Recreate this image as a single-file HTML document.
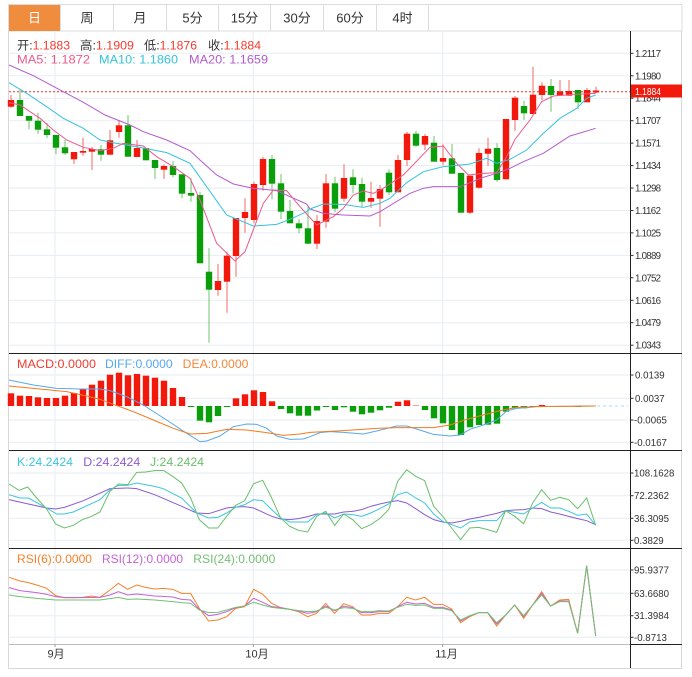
<!DOCTYPE html>
<html><head><meta charset="utf-8"><style>
html,body{margin:0;padding:0;background:#fff;}
svg{display:block;}
text{font-family:"Liberation Sans","Noto Sans CJK SC",sans-serif;}
</style></head><body>
<svg width="692" height="677" viewBox="0 0 692 677" xmlns="http://www.w3.org/2000/svg">
<rect x="0" y="0" width="692" height="677" fill="#fff"/>
<!-- tab bar -->
<rect x="8.5" y="4.5" width="673.5" height="26.5" fill="#fff" stroke="#dcdcdc"/>
<rect x="9" y="5" width="51" height="26" fill="#f08c3e"/>
<g stroke="#dcdcdc">
<line x1="60.5" y1="5" x2="60.5" y2="31"/><line x1="113.5" y1="5" x2="113.5" y2="31"/><line x1="166.5" y1="5" x2="166.5" y2="31"/><line x1="218.5" y1="5" x2="218.5" y2="31"/><line x1="270.5" y1="5" x2="270.5" y2="31"/><line x1="323.5" y1="5" x2="323.5" y2="31"/><line x1="376.5" y1="5" x2="376.5" y2="31"/><line x1="428.5" y1="5" x2="428.5" y2="31"/>
</g>
<g font-size="13" text-anchor="middle" fill="#333">
<text x="34.5" y="22.5" fill="#fff">日</text><text x="87" y="22.5">周</text><text x="140" y="22.5">月</text><text x="192.5" y="22.5">5分</text><text x="244.5" y="22.5">15分</text><text x="297" y="22.5">30分</text><text x="350" y="22.5">60分</text><text x="402.5" y="22.5">4时</text>
</g>
<!-- frame -->
<line x1="8.5" y1="31" x2="8.5" y2="668.5" stroke="#d8d8d8"/>
<line x1="681.5" y1="31" x2="681.5" y2="668.5" stroke="#d8d8d8"/>
<line x1="8.5" y1="668.5" x2="682" y2="668.5" stroke="#d8d8d8"/>
<!-- grid -->
<g stroke="#e6edf2" stroke-width="1">
<line x1="9" y1="53.3" x2="630" y2="53.3"/><line x1="9" y1="75.8" x2="630" y2="75.8"/><line x1="9" y1="98.2" x2="630" y2="98.2"/><line x1="9" y1="120.7" x2="630" y2="120.7"/><line x1="9" y1="143.1" x2="630" y2="143.1"/><line x1="9" y1="165.6" x2="630" y2="165.6"/><line x1="9" y1="188" x2="630" y2="188"/><line x1="9" y1="210.5" x2="630" y2="210.5"/><line x1="9" y1="232.9" x2="630" y2="232.9"/><line x1="9" y1="255.4" x2="630" y2="255.4"/><line x1="9" y1="277.8" x2="630" y2="277.8"/><line x1="9" y1="300.3" x2="630" y2="300.3"/><line x1="9" y1="322.7" x2="630" y2="322.7"/><line x1="9" y1="345.2" x2="630" y2="345.2"/>
<line x1="9" y1="375" x2="630" y2="375"/><line x1="9" y1="398.3" x2="630" y2="398.3"/><line x1="9" y1="420" x2="630" y2="420"/><line x1="9" y1="442.3" x2="630" y2="442.3"/>
<line x1="9" y1="473" x2="630" y2="473"/><line x1="9" y1="495.7" x2="630" y2="495.7"/><line x1="9" y1="518.3" x2="630" y2="518.3"/><line x1="9" y1="540.3" x2="630" y2="540.3"/>
<line x1="9" y1="570" x2="630" y2="570"/><line x1="9" y1="593.3" x2="630" y2="593.3"/><line x1="9" y1="615.7" x2="630" y2="615.7"/><line x1="9" y1="637.3" x2="630" y2="637.3"/>
<line x1="55" y1="31" x2="55" y2="644"/><line x1="253.3" y1="31" x2="253.3" y2="644"/><line x1="442.7" y1="31" x2="442.7" y2="644"/>
</g>
<!-- panel separators / axes -->
<g stroke="#222">
<line x1="9" y1="353.5" x2="682" y2="353.5"/><line x1="9" y1="450.5" x2="682" y2="450.5"/><line x1="9" y1="548.5" x2="682" y2="548.5"/>
<line x1="630.5" y1="31" x2="630.5" y2="668"/>
<line x1="630" y1="644.5" x2="682" y2="644.5"/>
</g>
<line x1="9" y1="644.5" x2="630" y2="644.5" stroke="#bdbdbd"/>
<g stroke="#999"><line x1="55" y1="644" x2="55" y2="647"/><line x1="253.3" y1="644" x2="253.3" y2="647"/><line x1="442.7" y1="644" x2="442.7" y2="647"/></g>
<!-- axis ticks -->
<g stroke="#333">
<line x1="630" y1="53.3" x2="633.5" y2="53.3"/><line x1="630" y1="75.8" x2="633.5" y2="75.8"/><line x1="630" y1="98.2" x2="633.5" y2="98.2"/><line x1="630" y1="120.7" x2="633.5" y2="120.7"/><line x1="630" y1="143.1" x2="633.5" y2="143.1"/><line x1="630" y1="165.6" x2="633.5" y2="165.6"/><line x1="630" y1="188" x2="633.5" y2="188"/><line x1="630" y1="210.5" x2="633.5" y2="210.5"/><line x1="630" y1="232.9" x2="633.5" y2="232.9"/><line x1="630" y1="255.4" x2="633.5" y2="255.4"/><line x1="630" y1="277.8" x2="633.5" y2="277.8"/><line x1="630" y1="300.3" x2="633.5" y2="300.3"/><line x1="630" y1="322.7" x2="633.5" y2="322.7"/><line x1="630" y1="345.2" x2="633.5" y2="345.2"/>
<line x1="630" y1="375" x2="633.5" y2="375"/><line x1="630" y1="398.3" x2="633.5" y2="398.3"/><line x1="630" y1="420" x2="633.5" y2="420"/><line x1="630" y1="442.3" x2="633.5" y2="442.3"/>
<line x1="630" y1="473" x2="633.5" y2="473"/><line x1="630" y1="495.7" x2="633.5" y2="495.7"/><line x1="630" y1="518.3" x2="633.5" y2="518.3"/><line x1="630" y1="540.3" x2="633.5" y2="540.3"/>
<line x1="630" y1="570" x2="633.5" y2="570"/><line x1="630" y1="593.3" x2="633.5" y2="593.3"/><line x1="630" y1="615.7" x2="633.5" y2="615.7"/><line x1="630" y1="637.3" x2="633.5" y2="637.3"/>
</g>
<g font-size="9.7" fill="#333" lengthAdjust="spacingAndGlyphs">
<text x="635" y="56.8" textLength="26">1.2117</text><text x="635" y="79.3" textLength="26">1.1980</text><text x="635" y="101.7" textLength="26">1.1844</text><text x="635" y="124.2" textLength="26">1.1707</text><text x="635" y="146.6" textLength="26">1.1571</text><text x="635" y="169.1" textLength="26">1.1434</text><text x="635" y="191.5" textLength="26">1.1298</text><text x="635" y="214" textLength="26">1.1162</text><text x="635" y="236.4" textLength="26">1.1025</text><text x="635" y="258.9" textLength="26">1.0889</text><text x="635" y="281.3" textLength="26">1.0752</text><text x="635" y="303.8" textLength="26">1.0616</text><text x="635" y="326.2" textLength="26">1.0479</text><text x="635" y="348.7" textLength="26">1.0343</text>
<text x="635" y="378.5">0.0139</text><text x="635" y="401.8">0.0037</text><text x="634" y="423.5">-0.0065</text><text x="634" y="445.8">-0.0167</text>
<text x="634" y="476.5">108.1628</text><text x="634" y="499.2">72.2362</text><text x="634" y="521.8">36.3095</text><text x="634" y="543.8">0.3829</text>
<text x="634" y="573.5">95.9377</text><text x="634" y="596.8">63.6680</text><text x="634" y="619.2">31.3984</text><text x="634" y="640.8">-0.8713</text>
</g>
<!-- price line and box -->
<line x1="9" y1="91.7" x2="630" y2="91.7" stroke="#e8322a" stroke-dasharray="2,2"/>
<rect x="631" y="84.5" width="51" height="13" fill="#f21a0c"/>
<text x="635" y="94.8" font-size="9.7" fill="#fff" textLength="26" lengthAdjust="spacingAndGlyphs">1.1884</text>
<!-- header texts -->
<g font-size="12">
<text x="17" y="49.5" textLength="53" lengthAdjust="spacingAndGlyphs"><tspan fill="#333">开:</tspan><tspan fill="#f23c2e">1.1883</tspan></text>
<text x="80" y="49.5" textLength="54" lengthAdjust="spacingAndGlyphs"><tspan fill="#333">高:</tspan><tspan fill="#f23c2e">1.1909</tspan></text>
<text x="144" y="49.5" textLength="53" lengthAdjust="spacingAndGlyphs"><tspan fill="#333">低:</tspan><tspan fill="#f23c2e">1.1876</tspan></text>
<text x="208" y="49.5" textLength="53" lengthAdjust="spacingAndGlyphs"><tspan fill="#333">收:</tspan><tspan fill="#f23c2e">1.1884</tspan></text>
<text x="17" y="63.5" fill="#ec5a8c" textLength="73" lengthAdjust="spacingAndGlyphs">MA5: 1.1872</text>
<text x="99" y="63.5" fill="#35c3dc" textLength="79" lengthAdjust="spacingAndGlyphs">MA10: 1.1860</text>
<text x="189" y="63.5" fill="#b45bcf" textLength="79" lengthAdjust="spacingAndGlyphs">MA20: 1.1659</text>
<text x="17" y="368" fill="#f03c2e" textLength="79" lengthAdjust="spacingAndGlyphs">MACD:0.0000</text>
<text x="105" y="368" fill="#58a8ec" textLength="67.7" lengthAdjust="spacingAndGlyphs">DIFF:0.0000</text>
<text x="182.7" y="368" fill="#f5873a" textLength="65.7" lengthAdjust="spacingAndGlyphs">DEA:0.0000</text>
<text x="17" y="466" fill="#3cc6dc" textLength="56" lengthAdjust="spacingAndGlyphs">K:24.2424</text>
<text x="83.3" y="466" fill="#8a5bd0" textLength="57" lengthAdjust="spacingAndGlyphs">D:24.2424</text>
<text x="150" y="466" fill="#6bbf6b" textLength="54" lengthAdjust="spacingAndGlyphs">J:24.2424</text>
<text x="17" y="563" fill="#f7812a" textLength="75" lengthAdjust="spacingAndGlyphs">RSI(6):0.0000</text>
<text x="102" y="563" fill="#c463d2" textLength="81" lengthAdjust="spacingAndGlyphs">RSI(12):0.0000</text>
<text x="193.3" y="563" fill="#73c073" textLength="82" lengthAdjust="spacingAndGlyphs">RSI(24):0.0000</text>
</g>
<g font-size="11" fill="#333" text-anchor="middle">
<text x="56" y="657.5">9月</text><text x="257" y="657.5">10月</text><text x="446.5" y="657.5">11月</text>
</g>
<!-- candle wicks -->
<path fill="none" stroke="#f26a62" stroke-width="1" d="M11 95V107.7M74 152V164M83 137.7V155.7M92 147V170M110 130V154.7M119 120V137.7M137 140V157M164 164.3V179M218 264V295.7M227 251.7V312.7M236 218V276.7M245 198.3V232.7M254 181.7V223.3M263 156.7V190.7M317 215V249M326 174V227.7M344 164.3V201.7M371 181.7V207.7M380 185V226.7M398 155V192.3M407 131.7V166M425 134V150M443 144.3V165M470 175.7V214M479 148.3V188.7M488 137.7V166M506 119V179.3M515 96V130.7M533 66.7V114M542 82.3V100M560 80V95.7M569 80V95.7M587 88V102.3M596 86.7V93.3"/>
<path fill="none" stroke="#6cc46c" stroke-width="1" d="M20 89V116M29 116V129.3M38 112.7V134M47 123V138M56 135V154.3M65 140V155M101 145V160.7M128 115V156.7M146 148V160.3M155 160V179M173 161V177.3M182 174.3V198.3M191 178.3V201.7M200 191.7V263.3M209 248.3V342.7M272 155V199.3M281 174V219M290 200V223.3M299 219.3V233.3M308 206.7V243.7M335 176.7V212.3M353 169.3V193.3M362 177.7V206.7M389 169.3V195M416 130.7V146.7M434 136V161.7M452 144V173.7M461 173V212.7M497 143.3V181.7M524 100.7V120M551 79V111.7M578 90V108.7"/>
<!-- red bodies -->
<g fill="#f2190c">
<rect x="7.8" y="100" width="6.4" height="6.7"/><rect x="70.8" y="152" width="6.4" height="7.3"/><rect x="79.8" y="151" width="6.4" height="1.7"/><rect x="88.8" y="149" width="6.4" height="2.7"/><rect x="106.8" y="140.3" width="6.4" height="14.4"/><rect x="115.8" y="125.3" width="6.4" height="6.7"/><rect x="133.8" y="148" width="6.4" height="9"/><rect x="160.8" y="166" width="6.4" height="3.7"/><rect x="214.8" y="281" width="6.4" height="9"/><rect x="223.8" y="255.7" width="6.4" height="26"/><rect x="232.8" y="218" width="6.4" height="38"/><rect x="241.8" y="212" width="6.4" height="6"/><rect x="250.8" y="184" width="6.4" height="36"/><rect x="259.8" y="159" width="6.4" height="26"/><rect x="313.8" y="221" width="6.4" height="22.7"/><rect x="322.8" y="183.3" width="6.4" height="38.4"/><rect x="340.8" y="178" width="6.4" height="20.7"/><rect x="367.8" y="198" width="6.4" height="3.7"/><rect x="376.8" y="189" width="6.4" height="9.7"/><rect x="394.8" y="160" width="6.4" height="32.3"/><rect x="403.8" y="133.7" width="6.4" height="26.3"/><rect x="421.8" y="136" width="6.4" height="8.7"/><rect x="439.8" y="158" width="6.4" height="3.7"/><rect x="466.8" y="175.7" width="6.4" height="37"/><rect x="475.8" y="153" width="6.4" height="34.7"/><rect x="484.8" y="148.7" width="6.4" height="5"/><rect x="502.8" y="119" width="6.4" height="60.3"/><rect x="511.8" y="97.7" width="6.4" height="22.3"/><rect x="529.8" y="94.7" width="6.4" height="19.3"/><rect x="538.8" y="85.7" width="6.4" height="9.3"/><rect x="556.8" y="91.3" width="6.4" height="4.4"/><rect x="565.8" y="91" width="6.4" height="4.7"/><rect x="583.8" y="90" width="6.4" height="12.3"/><rect x="592.8" y="90.5" width="6.4" height="2"/>
</g>
<!-- green bodies -->
<g fill="#0a9f0a">
<rect x="16.8" y="100" width="6.4" height="16"/><rect x="25.8" y="116" width="6.4" height="4.7"/><rect x="34.8" y="120.7" width="6.4" height="9"/><rect x="43.8" y="129.3" width="6.4" height="5.7"/><rect x="52.8" y="135" width="6.4" height="12.7"/><rect x="61.8" y="147.3" width="6.4" height="6"/><rect x="97.8" y="149.3" width="6.4" height="5.4"/><rect x="124.8" y="125.3" width="6.4" height="31.4"/><rect x="142.8" y="148" width="6.4" height="12.3"/><rect x="151.8" y="160" width="6.4" height="8"/><rect x="169.8" y="166" width="6.4" height="9"/><rect x="178.8" y="174.3" width="6.4" height="19.4"/><rect x="187.8" y="193" width="6.4" height="2.7"/><rect x="196.8" y="195" width="6.4" height="68.3"/><rect x="205.8" y="271.7" width="6.4" height="18"/><rect x="268.8" y="159" width="6.4" height="24.7"/><rect x="277.8" y="183.3" width="6.4" height="28.4"/><rect x="286.8" y="211" width="6.4" height="12.3"/><rect x="295.8" y="223.3" width="6.4" height="5"/><rect x="304.8" y="228.3" width="6.4" height="15.4"/><rect x="331.8" y="183.3" width="6.4" height="25.4"/><rect x="349.8" y="177.3" width="6.4" height="7.7"/><rect x="358.8" y="184" width="6.4" height="17.7"/><rect x="385.8" y="172.7" width="6.4" height="19.6"/><rect x="412.8" y="133.7" width="6.4" height="12"/><rect x="430.8" y="142.7" width="6.4" height="19"/><rect x="448.8" y="158.3" width="6.4" height="15.4"/><rect x="457.8" y="173" width="6.4" height="39.7"/><rect x="493.8" y="148" width="6.4" height="32"/><rect x="520.8" y="106" width="6.4" height="7.3"/><rect x="547.8" y="86" width="6.4" height="9"/><rect x="574.8" y="90" width="6.4" height="12.3"/>
</g>
<!-- MA lines -->
<g transform="matrix(0.33333,0,0,0.33333,0,60)" fill="none" stroke-width="1">
<polyline vector-effect="non-scaling-stroke" stroke="#b45bcf" points="27,15 100,47 190,95 250,127 315,165 390,195 430,215 500,240 570,272 600,300 650,345 700,372 760,385 830,392 870,410 920,432 930,447 970,460 1030,465 1110,468 1140,455 1230,400 1270,385 1300,380 1380,380 1450,352 1490,340 1530,325 1570,305 1630,280 1710,228 1787,205"/>
<polyline vector-effect="non-scaling-stroke" stroke="#35c3dc" points="27,68 80,100 140,140 190,175 250,205 300,240 350,250 420,262 500,278 570,310 620,380 680,465 760,498 830,493 870,478 920,455 930,447 970,432 1030,433 1090,442 1140,430 1170,415 1220,368 1270,335 1330,320 1370,316 1410,312 1460,295 1490,310 1530,298 1580,270 1630,220 1680,175 1730,145 1760,115 1787,105"/>
<polyline vector-effect="non-scaling-stroke" stroke="#ec5a8c" points="27,128 60,135 120,175 160,210 200,240 250,262 300,272 340,265 370,250 430,258 470,290 520,320 570,355 600,420 650,550 705,603 735,575 790,430 820,390 860,392 900,440 950,495 1000,470 1030,445 1060,405 1090,393 1120,400 1150,385 1210,345 1290,262 1330,258 1370,310 1405,345 1450,340 1490,338 1520,290 1545,238 1590,180 1625,125 1660,108 1720,103 1787,100"/>
</g>
<!-- MACD histogram -->
<g fill="#f2190c">
<rect x="7.8" y="393.3" width="6.4" height="12.7"/><rect x="16.8" y="395.7" width="6.4" height="10.3"/><rect x="25.8" y="396" width="6.4" height="10"/><rect x="34.8" y="397.3" width="6.4" height="8.7"/><rect x="43.8" y="398" width="6.4" height="8"/><rect x="52.8" y="398" width="6.4" height="8"/><rect x="61.8" y="395.7" width="6.4" height="10.3"/><rect x="70.8" y="393" width="6.4" height="13"/><rect x="79.8" y="389" width="6.4" height="17"/><rect x="88.8" y="384.7" width="6.4" height="21.3"/><rect x="97.8" y="380.7" width="6.4" height="25.3"/><rect x="106.8" y="374.7" width="6.4" height="31.3"/><rect x="115.8" y="372.7" width="6.4" height="33.3"/><rect x="124.8" y="375.3" width="6.4" height="30.7"/><rect x="133.8" y="374" width="6.4" height="32"/><rect x="142.8" y="375.7" width="6.4" height="30.3"/><rect x="151.8" y="377.7" width="6.4" height="28.3"/><rect x="160.8" y="380.7" width="6.4" height="25.3"/><rect x="169.8" y="388" width="6.4" height="18"/><rect x="178.8" y="397" width="6.4" height="9"/>
<rect x="232.8" y="398.3" width="6.4" height="7.7"/><rect x="241.8" y="394.3" width="6.4" height="11.7"/><rect x="250.8" y="390.3" width="6.4" height="15.7"/><rect x="259.8" y="392" width="6.4" height="14"/><rect x="268.8" y="401.3" width="6.4" height="4.7"/>
<rect x="394.8" y="401.7" width="6.4" height="4.3"/><rect x="403.8" y="400.3" width="6.4" height="5.7"/><rect x="412.8" y="405" width="6.4" height="1" fill="#f6a0a0"/><rect x="538.8" y="405" width="6.4" height="1.2"/>
</g>
<g fill="#0a9f0a">
<rect x="187.8" y="406" width="6.4" height="1"/><rect x="196.8" y="406" width="6.4" height="14.7"/><rect x="205.8" y="406" width="6.4" height="16.3"/><rect x="214.8" y="406" width="6.4" height="10"/><rect x="223.8" y="406" width="6.4" height="1"/>
<rect x="277.8" y="406" width="6.4" height="3"/><rect x="286.8" y="406" width="6.4" height="7.3"/><rect x="295.8" y="406" width="6.4" height="9.7"/><rect x="304.8" y="406" width="6.4" height="9.7"/><rect x="313.8" y="406" width="6.4" height="4.5"/><rect x="322.8" y="406" width="6.4" height="1"/><rect x="331.8" y="406" width="6.4" height="4"/><rect x="340.8" y="406" width="6.4" height="1.3"/><rect x="349.8" y="406" width="6.4" height="5.7"/><rect x="358.8" y="406" width="6.4" height="8.3"/><rect x="367.8" y="406" width="6.4" height="6.7"/><rect x="376.8" y="406" width="6.4" height="4.3"/><rect x="385.8" y="406" width="6.4" height="1.7"/>
<rect x="421.8" y="406" width="6.4" height="4"/><rect x="430.8" y="406" width="6.4" height="12.3"/><rect x="439.8" y="406" width="6.4" height="17.3"/><rect x="448.8" y="406" width="6.4" height="24"/><rect x="457.8" y="406" width="6.4" height="29"/><rect x="466.8" y="406" width="6.4" height="21.3"/><rect x="475.8" y="406" width="6.4" height="19"/><rect x="484.8" y="406" width="6.4" height="18.7"/><rect x="493.8" y="406" width="6.4" height="17.7"/><rect x="502.8" y="406" width="6.4" height="5.7"/><rect x="511.8" y="406" width="6.4" height="1.7"/><rect x="520.8" y="406" width="6.4" height="2.3"/><rect x="529.8" y="406" width="6.4" height="0.8"/><rect x="574.8" y="406" width="6.4" height="1"/>
</g>
<line x1="597" y1="406" x2="628" y2="406" stroke="#a8dcef" stroke-dasharray="3,3"/>
<g transform="matrix(0.33333,0,0,0.33333,0,350)" fill="none">
<polyline vector-effect="non-scaling-stroke" stroke="#58a8ec" points="27,90 100,105 170,115 240,117 300,117 330,122 380,140 430,165 500,210 560,250 600,275 620,273 660,258 700,230 740,222 770,223 800,235 830,258 870,268 910,267 930,260 960,248 990,245 1030,247 1090,252 1130,243 1190,228 1220,228 1250,237 1300,253 1350,258 1380,255 1410,238 1450,225 1490,210 1520,183 1550,175 1580,173 1610,170 1787,168"/>
<polyline vector-effect="non-scaling-stroke" stroke="#f57a1e" points="27,108 100,115 200,125 260,138 300,148 340,163 400,185 460,210 520,235 570,252 620,250 680,238 740,240 800,248 850,256 900,252 930,247 1030,242 1130,235 1190,233 1300,233 1350,225 1400,208 1450,195 1500,182 1550,172 1610,170 1787,168"/>
</g>
<!-- KDJ -->
<g transform="matrix(0.33333,0,0,0.33333,0,448)" fill="none">
<polyline vector-effect="non-scaling-stroke" stroke="#8a5bd0" points="27,155 85,168 140,180 167,183 193,178 250,158 330,122 383,120 410,122 464,140 545,175 590,195 626,197 680,180 707,177 734,176 761,180 815,205 842,213 869,215 896,212 923,206 950,198 977,198 1004,198 1031,192 1058,190 1085,185 1112,175 1139,168 1166,162 1193,158 1220,165 1247,182 1274,200 1301,215 1328,222 1355,225 1382,220 1409,213 1436,208 1463,202 1490,196 1517,188 1544,186 1571,185 1598,180 1625,182 1652,192 1679,198 1706,205 1733,212 1760,218 1787,230"/>
<polyline vector-effect="non-scaling-stroke" stroke="#3cc6dc" points="27,140 60,150 85,150 140,180 170,198 193,198 220,192 300,155 330,125 355,112 383,112 410,105 464,115 490,122 545,150 590,195 626,210 653,208 680,195 707,178 734,170 761,155 788,158 815,185 842,210 869,222 896,222 923,222 950,200 977,195 1004,210 1031,198 1058,200 1085,205 1112,195 1139,182 1166,168 1193,140 1220,132 1247,150 1274,165 1301,198 1328,220 1355,230 1382,240 1409,222 1436,218 1463,218 1490,218 1517,188 1544,193 1571,198 1598,180 1625,163 1652,180 1679,180 1706,190 1733,202 1760,198 1787,232"/>
<polyline vector-effect="non-scaling-stroke" stroke="#6bbf6b" points="27,108 57,127 83,117 110,150 140,183 167,228 193,240 220,232 247,215 275,205 300,192 330,130 355,108 383,110 410,73 437,72 464,68 490,67 518,85 545,105 572,150 598,215 626,240 653,240 680,205 707,172 734,158 761,107 788,97 815,150 842,210 869,235 896,247 923,252 950,205 977,190 1004,232 1031,198 1058,215 1085,242 1112,230 1139,212 1166,185 1193,100 1220,65 1247,85 1274,98 1301,175 1328,205 1355,240 1382,275 1409,240 1436,238 1463,245 1490,253 1517,188 1544,205 1571,227 1598,165 1625,125 1652,157 1679,148 1706,155 1733,182 1760,150 1787,232"/>
</g>
<!-- RSI -->
<g transform="matrix(0.33333,0,0,0.33333,0,545)" fill="none">
<polyline vector-effect="non-scaling-stroke" stroke="#f7812a" points="27,97 60,108 85,113 110,120 140,130 167,152 193,158 220,158 247,157 275,153 300,157 330,135 355,115 383,133 410,120 437,127 464,132 490,130 518,133 545,145 572,145 598,190 626,228 653,225 680,215 707,190 734,185 761,133 788,148 815,175 842,188 869,193 896,200 923,215 950,205 977,175 1004,205 1031,176 1058,185 1085,210 1112,210 1139,205 1166,205 1193,185 1220,157 1247,165 1274,157 1301,178 1328,178 1355,192 1382,233 1409,215 1436,203 1463,203 1490,243 1517,210 1544,180 1571,220 1598,180 1625,140 1652,183 1679,165 1706,163 1733,265 1760,62 1787,273"/>
<polyline vector-effect="non-scaling-stroke" stroke="#c463d2" points="27,128 60,137 110,143 140,148 167,155 193,158 247,158 300,157 330,150 355,140 383,150 410,147 437,150 464,153 490,154 518,156 545,163 572,165 598,193 626,212 653,208 680,200 707,188 734,183 761,160 788,172 815,185 842,188 869,193 896,198 923,205 950,200 977,182 1004,197 1031,183 1058,188 1085,203 1112,203 1139,200 1166,200 1193,185 1220,172 1247,177 1274,175 1301,187 1328,187 1355,195 1382,228 1409,213 1436,203 1463,203 1490,237 1517,210 1544,180 1571,215 1598,180 1625,145 1652,183 1679,168 1706,168 1733,265 1760,62 1787,273"/>
<polyline vector-effect="non-scaling-stroke" stroke="#73c073" points="27,150 60,155 110,160 167,165 193,165 247,165 300,165 355,157 383,163 410,162 464,165 518,170 545,173 572,175 598,195 626,203 653,202 680,195 707,187 734,183 761,172 788,180 815,187 842,190 869,193 896,197 923,200 950,198 977,187 1004,195 1031,188 1058,190 1085,200 1112,200 1139,197 1166,198 1193,187 1220,178 1247,181 1274,180 1301,190 1328,190 1355,197 1382,225 1409,212 1436,203 1463,203 1490,233 1517,210 1544,180 1571,212 1598,180 1625,150 1652,183 1679,170 1706,170 1733,265 1760,62 1787,273"/>
</g>
</svg>
</body></html>
